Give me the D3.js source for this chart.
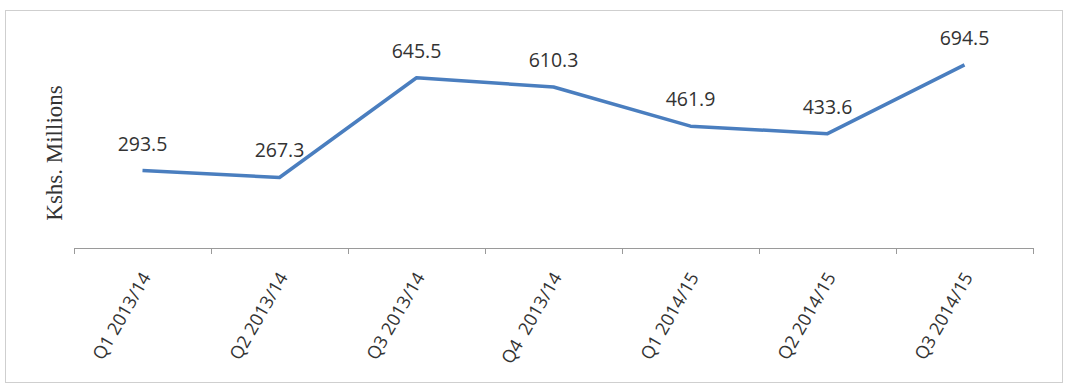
<!DOCTYPE html>
<html><head><meta charset="utf-8">
<script src="https://cdn.jsdelivr.net/npm/d3@7"></script>
<style>body{margin:0;background:#fff;} svg{display:block;}</style>
</head><body>
<svg id="c" width="1066" height="386"></svg>
<script>
const categories = ["Q1 2013/14","Q2 2013/14","Q3 2013/14","Q4  2013/14","Q1 2014/15","Q2 2014/15","Q3 2014/15"];
const values = [293.5, 267.3, 645.5, 610.3, 461.9, 433.6, 694.5];
const valueLabels = ["293.5","267.3","645.5","610.3","461.9","433.6","694.5"];
const yAxisTitle = "Kshs. Millions";

const svg = d3.select("#c");
svg.append("rect").attr("x",5.5).attr("y",10.5).attr("width",1057).attr("height",372)
  .attr("fill","#fff").attr("stroke","#cfcfcf").attr("stroke-width",1);

const x = d3.scaleBand().domain(categories).range([74, 1033]);
const y = d3.scaleLinear().domain([0, 800]).range([248, 37]);

const g = svg.append("g");
g.append("line").attr("x1",x.range()[0]).attr("x2",x.range()[1]).attr("y1",248.5).attr("y2",248.5)
  .attr("stroke","#9a9a9a").attr("stroke-width",1);
const edges = categories.map(c => x(c)).concat([x.range()[1]]);
g.selectAll("line.tk").data(edges).enter().append("line").attr("class","tk")
  .attr("x1",d=>Math.round(d)+0.5).attr("x2",d=>Math.round(d)+0.5).attr("y1",248).attr("y2",254)
  .attr("stroke","#9a9a9a").attr("stroke-width",1);

g.selectAll("text.xl").data(categories).enter().append("text").attr("class","xl")
  .attr("transform", d => `translate(${x(d)+x.bandwidth()/2+9},${277}) rotate(-60)`)
  .attr("text-anchor","end")
  .style("white-space","pre")
  .style("font-family","'Open Sans', sans-serif").style("font-size","18px").attr("fill","#333")
  .text(d=>d);

const line = d3.line().x((d,i)=>x(categories[i])+x.bandwidth()/2).y(d=>y(d));
svg.append("path").datum(values).attr("d",line).attr("fill","none")
  .attr("stroke","#4a7ebf").attr("stroke-width",3.5).attr("stroke-linejoin","round");

svg.selectAll("text.vl").data(values).enter().append("text").attr("class","vl")
  .attr("x",(d,i)=>x(categories[i])+x.bandwidth()/2)
  .attr("y",d=>y(d)-20)
  .attr("text-anchor","middle")
  .style("font-family","'Open Sans', sans-serif").style("font-size","19.5px").attr("fill","#333")
  .text((d,i)=>valueLabels[i]);

svg.append("text").attr("transform","translate(62,153) rotate(-90)").attr("text-anchor","middle")
  .style("font-family","'Liberation Serif', 'DejaVu Serif', serif").style("font-size","23px").attr("fill","#333")
  .text(yAxisTitle);
</script>
</body></html>
